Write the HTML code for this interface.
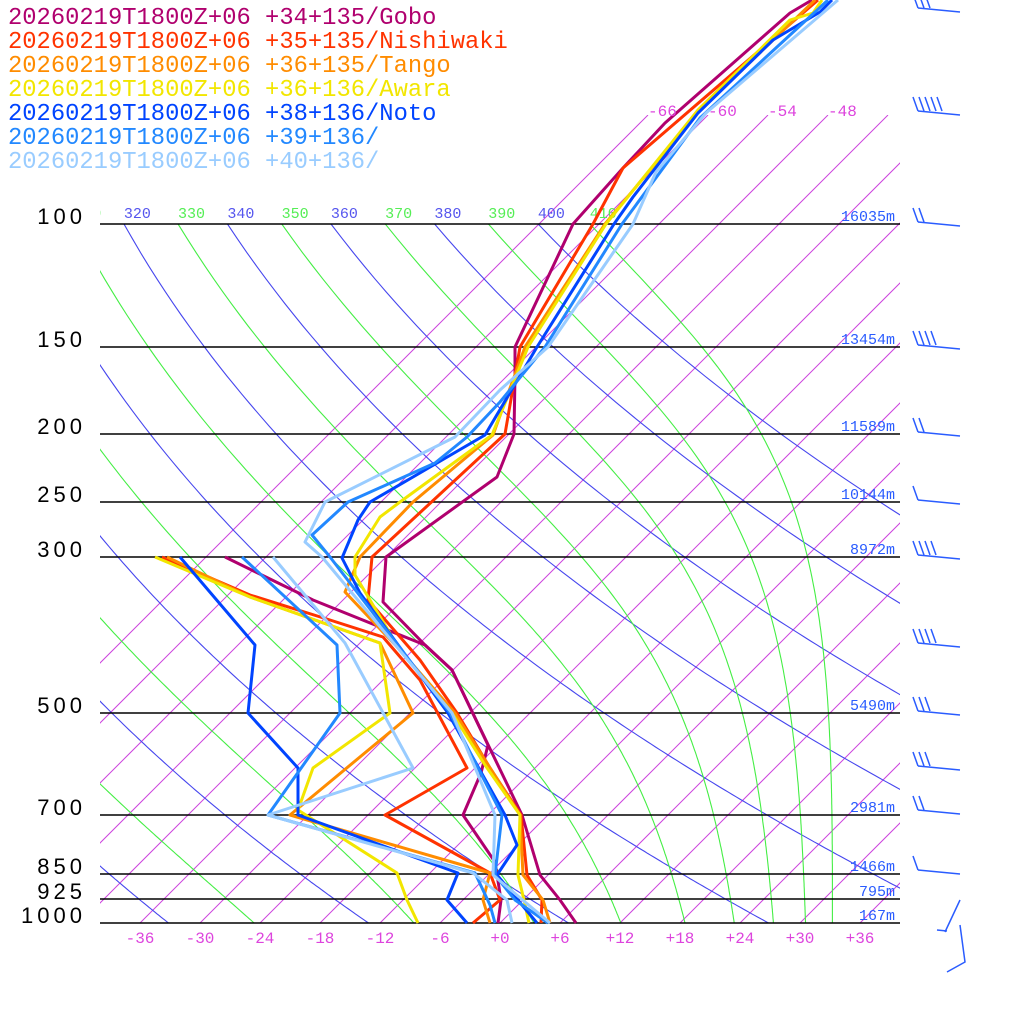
<!DOCTYPE html>
<html><head><meta charset="utf-8">
<style>
html,body{margin:0;padding:0;background:#fff;}
svg{display:block;}
text{font-family:"Liberation Mono",monospace;}
</style></head>
<body>
<svg id="s" width="1024" height="1024" viewBox="0 0 1024 1024" xmlns="http://www.w3.org/2000/svg">
<defs>
<clipPath id="cIso"><rect x="100" y="115" width="800" height="808"/></clipPath>
<clipPath id="cAd"><rect x="100" y="224" width="800" height="699"/></clipPath>
<clipPath id="cLab"><rect x="100" y="195" width="800" height="30"/></clipPath>
</defs>
<rect width="1024" height="1024" fill="#fff"/>
<g id="iso" clip-path="url(#cIso)"></g>
<g id="ad" clip-path="url(#cAd)"></g>
<g id="lab" clip-path="url(#cLab)"></g>
<g id="hl" stroke="#000" stroke-width="1.5"></g>
<g id="prof" fill="none" stroke-width="3" stroke-linejoin="round"></g>
<g id="barbs" stroke="#2a5cff" stroke-width="1.5" fill="none"></g>
<g id="txt"></g>
</svg>
<script>
var NS="http://www.w3.org/2000/svg";
function el(n,a,p,t){var e=document.createElementNS(NS,n);for(var k in a)e.setAttribute(k,a[k]);if(t!==undefined)e.textContent=t;p.appendChild(e);return e;}
function Y(p){return 923-303.6*Math.log(1000/p);}
function X(T,y){return 500+10*T+(923-y);}
var iso=document.getElementById('iso'),ad=document.getElementById('ad'),lab=document.getElementById('lab'),hl=document.getElementById('hl'),prof=document.getElementById('prof'),barbs=document.getElementById('barbs'),txt=document.getElementById('txt');
for(var T=-66;T<=60;T+=6){el('line',{x1:X(T,923),y1:923,x2:X(T,115),y2:115,stroke:'#cc44dd','stroke-width':1},iso);}
function ptsDry(th){var s=[];for(var p=1000;p>=99;p-=5){var y=Y(p);var t=th*Math.pow(p/1000,0.286)-273.15;s.push(X(t,y).toFixed(1)+','+y.toFixed(1));}return s.join(' ');}
for(var th=240;th<=400;th+=20){el('polyline',{points:ptsDry(th),fill:'none',stroke:'#4646ee','stroke-width':1.1},ad);
 var tx=X(th*Math.pow(0.1,0.286)-273.15,224);el('text',{x:tx,y:218,fill:'#5555ee','font-size':15},lab,String(th));}
function the(Tc,p){var es=6.112*Math.exp(17.67*Tc/(Tc+243.5));var r=622*es/(p-es);var TK=Tc+273.15;
 return TK*Math.pow(1000/p,0.2854*(1-0.00028*r))*Math.exp((3.376/TK-0.00254)*r*(1+0.00081*r));}
function solve(te,p){var lo=-140,hi=50;for(var i=0;i<50;i++){var m=(lo+hi)/2;if(the(m,p)<te)lo=m;else hi=m;}return (lo+hi)/2;}
for(var te=250;te<=410;te+=20){var s=[];for(var p=1000;p>=99;p-=5){var y=Y(p);s.push(X(solve(te,p),y).toFixed(1)+','+y.toFixed(1));}
 el('polyline',{points:s.join(' '),fill:'none',stroke:'#44ee44','stroke-width':1.1},ad);
 el('text',{x:X(solve(te,100),224),y:218,fill:'#55ee55','font-size':15},lab,String(te));}
var lev=[[100,'16035m'],[150,'13454m'],[200,'11589m'],[250,'10144m'],[300,'8972m'],[500,'5490m'],[700,'2981m'],[850,'1466m'],[925,'795m'],[1000,'167m']];
lev.forEach(function(l){var y=Math.round(Y(l[0]));el('line',{x1:100,y1:y,x2:900,y2:y},hl);
 el('text',{x:895,y:y-3,fill:'#2a5cff','font-size':15,'text-anchor':'end'},txt,l[1]);
 el('text',{x:86,y:y,fill:'#000','font-size':22,'text-anchor':'end','letter-spacing':'4','style':'font-family:"Liberation Sans",sans-serif'},txt,String(l[0]));});
for(var t=-36;t<=36;t+=6){el('text',{x:500+10*t,y:943,fill:'#dd44dd','font-size':16,'text-anchor':'middle'},txt,(t>=0?'+':'')+t);}
[-66,-60,-54,-48].forEach(function(t){el('text',{x:X(t,115),y:116,fill:'#dd44dd','font-size':16},txt,String(t));});
var cols=['#b0006e','#ff3300','#ff8c00','#f2e600','#0044ff','#2288ff','#99ccff'];
var names=['+34+135/Gobo','+35+135/Nishiwaki','+36+135/Tango','+36+136/Awara','+38+136/Noto','+39+136/','+40+136/'];
names.forEach(function(n,i){el('text',{x:8,y:24+24*i,fill:cols[i],'font-size':23.8},txt,'20260219T1800Z+06 '+n);});
var P=[
[[[576,923],[560,900],[540,875],[522,815],[452,670],[425,645],[383,602],[386,557],[497,477],[514,434],[515,375],[515,347],[573,224],[623,168],[665,123],[790,13],[812,0]],
 [[225,557],[313,600],[425,645],[452,670],[488,745],[481,773],[463,815],[495,862],[501,900],[498,923]]],
[[[541,923],[542,900],[527,875],[521,815],[490,768],[457,713],[420,660],[368,600],[372,557],[505,434],[520,347],[593,224],[623,168],[818,0]],
 [[162,557],[250,595],[330,620],[383,637],[420,680],[467,768],[385,815],[490,873],[500,900],[473,923]]],
[[[550,923],[543,900],[523,875],[520,815],[485,760],[455,713],[400,650],[345,592],[360,557],[413,502],[493,435],[525,347],[605,224],[700,110],[815,0]],
 [[167,557],[250,597],[380,643],[413,713],[290,815],[490,873],[483,900],[490,923]]],
[[[529,923],[524,900],[518,875],[520,815],[485,765],[452,713],[400,650],[355,575],[355,557],[380,517],[400,502],[492,435],[528,347],[606,224],[698,110],[790,20],[813,13],[822,0]],
 [[155,557],[250,597],[380,643],[390,713],[313,768],[298,810],[397,873],[407,900],[418,923]]],
[[[537,923],[497,875],[517,845],[505,815],[448,713],[360,593],[342,558],[358,520],[370,502],[485,435],[537,347],[614,224],[633,197],[698,113],[773,40],[820,12],[832,0]],
 [[180,557],[255,645],[248,713],[298,768],[298,815],[458,873],[447,900],[467,923]]],
[[[548,923],[515,900],[495,875],[502,815],[450,713],[330,557],[312,535],[348,502],[435,463],[467,437],[500,402],[545,347],[622,224],[700,118],[828,0]],
 [[242,557],[337,645],[340,713],[268,815],[475,873],[490,905],[495,923]]],
[[[550,923],[493,875],[495,815],[452,713],[322,557],[305,542],[325,502],[455,437],[500,390],[548,347],[633,224],[656,172],[706,113],[838,0]],
 [[273,557],[345,643],[413,768],[268,815],[473,873],[507,900],[512,923]]]
];
P.forEach(function(pr,i){pr.forEach(function(l){el('polyline',{points:l.map(function(q){return q.join(',')}).join(' '),stroke:cols[i]},prof);});});
var B=[[10,3],[113,5],[224,2],[347,4],[434,2],[502,1],[557,4],[645,4],[713,3],[768,3],[812,2],[872,1]];
B.forEach(function(b){var y=b[0];el('line',{x1:918,y1:y-2,x2:960,y2:y+2},barbs);
 for(var k=0;k<b[1];k++){var x=918+6*k;el('line',{x1:x,y1:y-2,x2:x-5,y2:y-16},barbs);}});
el('polyline',{points:'945,932 960,900'},barbs);el('polyline',{points:'937,930 947,931'},barbs);
el('polyline',{points:'960,925 965,962 947,972'},barbs);
</script>
</body></html>
